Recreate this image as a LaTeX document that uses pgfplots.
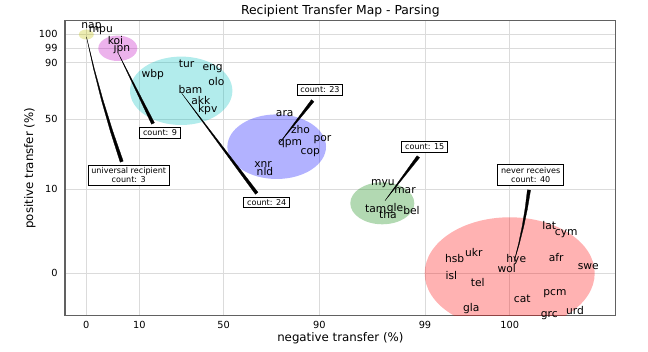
\documentclass[border=0pt]{standalone}
\usepackage{fontspec}
\setmainfont{DejaVu Sans}
\usepackage{pgfplots}
\pgfplotsset{compat=1.18}
\definecolor{mY}{rgb}{0.75,0.75,0}
\definecolor{mM}{rgb}{0.75,0,0.75}
\definecolor{mC}{rgb}{0,0.75,0.75}
\definecolor{mB}{rgb}{0,0,1}
\definecolor{mG}{rgb}{0,0.5,0}
\definecolor{mR}{rgb}{1,0,0}
\pgfplotsset{
  frame/.style={at={(245.05bp,132.34bp)}, anchor=center,
    width=396.5bp, height=212.4bp, scale only axis,
    xmin=65, xmax=615.7, ymin=20.7, ymax=315.7, y dir=reverse},
  ell/.style n args={3}{only marks, mark=*, mark size=#1,
    mark options={draw=none, draw opacity=0, line width=0pt, fill=#2, fill opacity=0.3, yscale=#3}},
  lbl/.style={only marks, mark=*, mark size=0pt, mark options={draw=none,fill=none},
    nodes near coords, point meta=explicit symbolic,
    every node near coord/.append style={anchor=center, inner sep=0pt, text=black,
      font=\fontsize{7.7bp}{9bp}\selectfont}},
  box/.style={only marks, mark=*, mark size=0pt, mark options={draw=none,fill=none},
    nodes near coords, point meta=explicit symbolic,
    every node near coord/.append style={anchor=center, draw=black, line width=0.6bp,
      fill=white, inner xsep=2.4bp, inner ysep=1.7bp, text=black, align=center,
      font=\fontsize{5.8bp}{6.9bp}\selectfont}},
  wedge/.style={fill=black, draw=black, line width=0.2bp},
}
\begin{document}
\begin{tikzpicture}
\useasboundingbox (0,0) rectangle (466.56bp,253.44bp);
\begin{axis}[
  frame,
  xtick={86.3,139.3,223.7,319.3,425,509.7},
  xticklabels={0,10,50,90,99,100},
  ytick={34,48.3,62.7,119,189.3,273.3},
  yticklabels={100,99,90,50,10,0},
  major tick length=0pt,
  grid=major, grid style={black!14, line width=0.6bp},
  axis line style={black!62, line width=0.8bp},
  tick label style={font=\fontsize{7.05bp}{8.5bp}\selectfont},
  xticklabel style={yshift=-0.8bp},
  yticklabel style={xshift=-1.8bp},
  xlabel={negative transfer (\%)}, ylabel={positive transfer (\%)},
  label style={font=\fontsize{8.5bp}{10bp}\selectfont},
  xlabel style={at={(axis description cs:0.5,-0.0767)}, anchor=center},
  ylabel style={at={(axis description cs:-0.0636,0.5)}, anchor=center},
  title={Recipient Transfer Map - Parsing},
  title style={font=\fontsize{8.9bp}{10bp}\selectfont, at={(axis description cs:0.5,1.0193)}, anchor=base, yshift=-6pt},
  clip marker paths=true,
]
\addplot[draw=none, ell={5.4bp}{mY}{0.667}] coordinates {(86.3,34.5)};
\addplot[draw=none, ell={14.04bp}{mM}{0.651}] coordinates {(117.8,48.3)};
\addplot[draw=none, ell={36.86bp}{mC}{0.668}] coordinates {(181.2,90.8)};
\addplot[draw=none, ell={35.5bp}{mB}{0.655}] coordinates {(276.7,146.7)};
\addplot[draw=none, ell={23.04bp}{mG}{0.656}] coordinates {(382.3,203.3)};
\addplot[draw=none, ell={61.2bp}{mR}{0.659}] coordinates {(509.7,273.3)};
\end{axis}
\begin{axis}[frame, hide axis, clip=false]
\addplot[lbl] table[meta=l] {
x y l
91.5 27 nap
100.8 31 mpu
115.5 41 koi
122 49 jpn
186.5 64.3 tur
212.7 69 eng
152.8 74.3 wbp
216.3 81.7 olo
190.5 90 bam
200.8 100.7 akk
207.7 110 kpv
284.7 113.3 ara
300.5 129.3 zho
290 143.3 qpm
322.5 139.3 por
310.3 152.7 cop
263 165 xnr
265 171.7 nld
383 183.3 myu
405 191 mar
375.8 209.3 tam
395 208.5 gle
411.5 210.7 bel
388 215 tha
549.2 225.7 lat
566.3 233.3 cym
454.7 258.3 hsb
473.8 252.3 ukr
516.3 259.3 hye
556.2 257.7 afr
506.7 269 wol
588.3 266.7 swe
451.3 275.7 isl
477.8 282.3 tel
555 293.3 pcm
522.2 299.3 cat
471.3 309 gla
549.3 315.7 grc
575 311 urd
};
\addplot[wedge] coordinates {(86.5,37) (93.47,68.68) (101.41,100.11) (110.31,131.30) (120.19,162.23) (123.21,161.17) (112.60,130.57) (102.94,99.68) (94.24,68.49)} -- cycle;
\addplot[wedge] coordinates {(118.3,53.3) (151.57,124.21) (154.43,122.79)} -- cycle;
\addplot[wedge] coordinates {(181.7,93.3) (255.42,194.26) (257.98,192.34)} -- cycle;
\addplot[wedge] coordinates {(279.3,143.3) (313.96,101.69) (311.44,99.71)} -- cycle;
\addplot[wedge] coordinates {(385,200.7) (419.58,157.67) (417.02,155.73)} -- cycle;
\addplot[wedge] coordinates {(514,262) (519.24,244.33) (523.75,226.47) (527.53,208.43) (530.59,190.20) (527.41,189.80) (525.17,208.03) (522.19,226.15) (518.46,244.13)} -- cycle;
\addplot[box] coordinates {(160,133) [count: 9] (266.7,202.5) [count: 24] (320,90) [count: 23] (424.7,146.7) [count: 15]};
\addplot[box, point meta=none, nodes near coords={universal recipient\\count: 3}] coordinates {(128.7,175.2)};
\addplot[box, point meta=none, nodes near coords={never receives\\count: 40}] coordinates {(530.7,175)};
\end{axis}
\end{tikzpicture}
\end{document}
